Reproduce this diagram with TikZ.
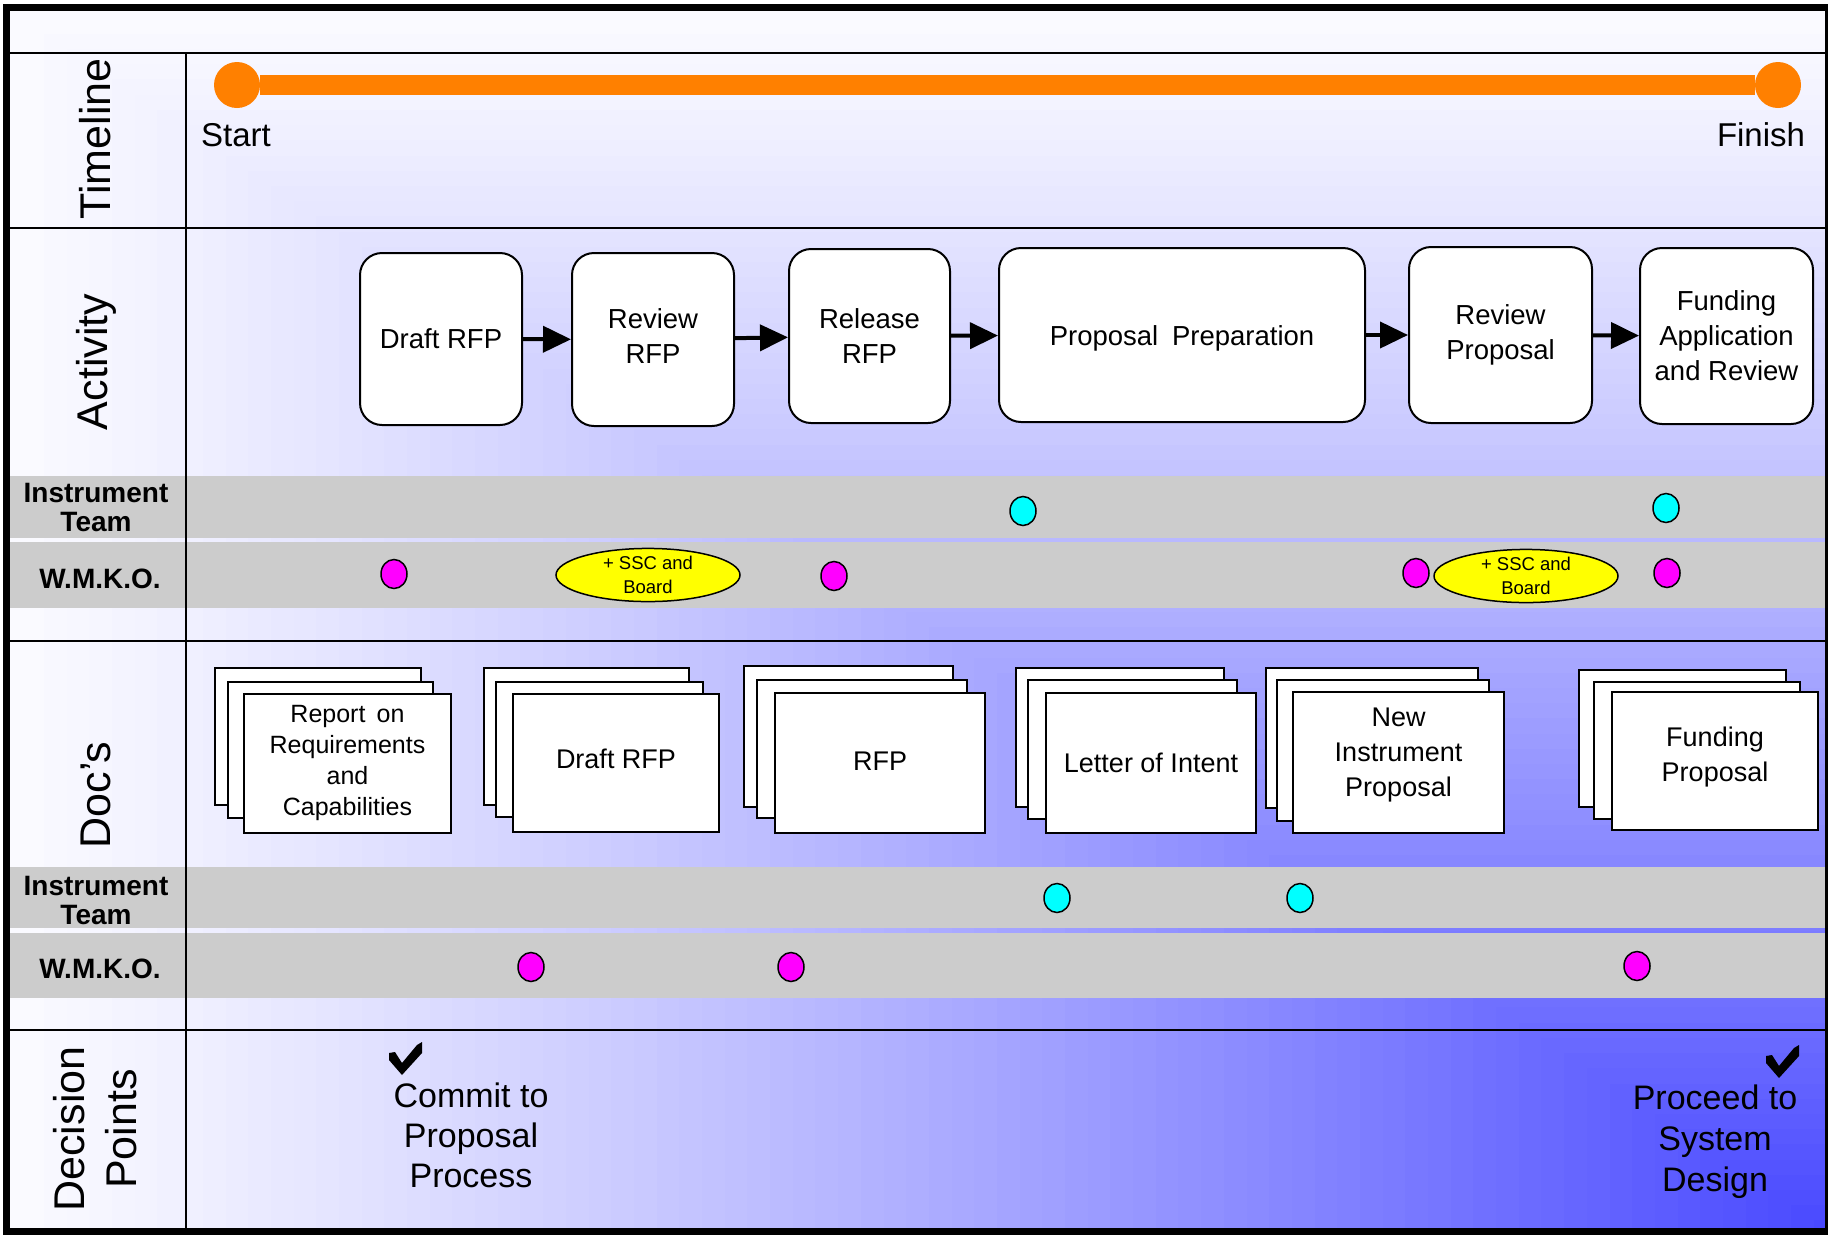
\documentclass[tikz,border=0pt]{standalone}
\usepackage{fontspec}
\setmainfont{Liberation Sans}
\usetikzlibrary{arrows.meta,shapes.geometric}
\definecolor{cornerblue}{RGB}{72,72,255}
\definecolor{paleblue}{RGB}{250,250,255}
\definecolor{bandgray}{RGB}{204,204,204}
\definecolor{tlorange}{RGB}{255,128,0}
\definecolor{dotmag}{RGB}{255,0,255}
\definecolor{dotcyan}{RGB}{0,255,255}
\definecolor{ellyellow}{RGB}{255,255,0}
\begin{document}
\begin{tikzpicture}[x=1pt,y=-1pt,
  sepline/.style={line width=2.4pt,black},
  rowlabel/.style={font={\fontsize{43}{52}\selectfont},align=center,rotate=90,inner sep=0},
  laneLabel/.style={font={\fontsize{28}{29}\selectfont\bfseries},align=center,inner sep=0},
  tltext/.style={font={\fontsize{33}{38}\selectfont},inner sep=0},
  actbox/.style={draw,fill=white,line width=2pt,rounded corners=22pt,align=center,inner sep=0,
                 font={\fontsize{27.5}{35}\selectfont}},
  acttext/.style={align=center,inner sep=0,font={\fontsize{27.5}{35}\selectfont}},
  arr/.style={line width=4pt,-{Triangle[length=28pt,width=26pt]}},
  docbox/.style={draw,fill=white,line width=2pt},
  docfront/.style={docbox,align=center,inner sep=0,minimum width=207pt,minimum height=139pt,
                 font={\fontsize{27}{35}\selectfont}},
  doctext/.style={align=center,inner sep=0,font={\fontsize{27}{35}\selectfont}},
  magdot/.style={ellipse,draw,line width=1.5pt,fill=dotmag,minimum width=26pt,minimum height=29pt,inner sep=0},
  cyandot/.style={ellipse,draw,line width=1.5pt,fill=dotcyan,minimum width=26pt,minimum height=29pt,inner sep=0},
  ssc/.style={ellipse,draw,line width=1.5pt,fill=ellyellow,minimum width=184pt,minimum height=53pt,
              inner sep=0,align=center,font={\fontsize{18.5}{24}\selectfont}},
  decision/.style={align=center,inner sep=0,font={\fontsize{34}{40}\selectfont}},
  chk/.pic={\fill[black] (0,11) -- (6,10) -- (13,21) -- (28,3) -- (33,0) -- (33,11) -- (13,33) -- (0,18) -- cycle;}
]
\useasboundingbox (0,0) rectangle (1828,1235);

% background: rectangular gradient from the bottom-right corner
\fill[paleblue] (10,11) rectangle (1825,1228);
\foreach \i in {0,...,79}{
  \pgfmathsetmacro\s{(80-\i-0.5)/80}
  \pgfmathsetmacro\p{100*(1-\s)^1.2}
  \fill[cornerblue!\p!paleblue] ({1825-\s*1815},{1228-\s*1217}) rectangle (1825,1228);
}

% grey lanes
\fill[bandgray] (10,476) rectangle (1825,538);
\fill[bandgray] (10,542) rectangle (1825,608);
\fill[bandgray] (10,867) rectangle (1825,928);
\fill[bandgray] (10,933) rectangle (1825,998);

% separators
\draw[sepline] (10,53) -- (1825,53);
\draw[sepline] (10,228) -- (1825,228);
\draw[sepline] (10,641) -- (1825,641);
\draw[sepline] (10,1030) -- (1825,1030);
\draw[sepline] (186,53) -- (186,1228);

% outer frame
\draw[line width=7pt] (6.5,7.5) rectangle (1828.5,1231.5);

% row labels
\node[rowlabel] (lbltime) at (95,139) {Timeline};
\node[rowlabel] (lblact) at (96,362) {Activity};
\node[rowlabel] (lbldoc) at (96,795) {Doc's};
\node[rowlabel] (lbldec) at (95,1129) {Decision\\Points};

\node[laneLabel] (it1) at (96,507) {Instrument\\Team};
\node[laneLabel] (wm1) at (100,579) {W.M.K.O.};
\node[laneLabel] (it2) at (96,900) {Instrument\\Team};
\node[laneLabel] (wm2) at (100,969) {W.M.K.O.};

% timeline
\node[circle,fill=tlorange,minimum size=46pt,inner sep=0] (tstart) at (237,85) {};
\node[circle,fill=tlorange,minimum size=46pt,inner sep=0] (tfinish) at (1778,85) {};
\draw[tlorange,line width=20pt] (tstart) -- (tfinish);
\node[tltext] (start) at (236,135) {Start};
\node[tltext] (finish) at (1761,135) {Finish};

% activities
\node[actbox,minimum width=162pt,minimum height=172pt] (a1) at (441,339) {Draft RFP};
\node[actbox,minimum width=162pt,minimum height=173pt] (a2) at (653,339.5) {};
\node[acttext] (a2t) at ([yshift=3.5pt]a2.center) {Review\\RFP};
\node[actbox,minimum width=161pt,minimum height=174pt] (a3) at (869.5,336) {Release\\RFP};
\node[actbox,minimum width=366pt,minimum height=174pt] (a4) at (1182,335) {};
\node[acttext] (a4t) at ([yshift=-3.5pt]a4.center) {Proposal\hspace{0.5em}Preparation};
\node[actbox,minimum width=183pt,minimum height=176pt] (a5) at (1500.5,335) {Review\\Proposal};
\node[actbox,minimum width=173pt,minimum height=176pt] (a6) at (1726.5,336) {Funding\\Application\\and Review};
\draw[arr] (a1) -- (a2);
\draw[arr] (a2) -- (a3);
\draw[arr] (a3) -- (a4);
\draw[arr] (a4) -- (a5);
\draw[arr] (a5) -- (a6);

% activity lanes
\node[cyandot] (ai1) at (1023,511) {};
\node[cyandot] (ai2) at (1666,508) {};
\node[magdot] (aw1) at (394,574) {};
\node[ssc] (ssc1) at (648,575) {+ SSC and\\Board};
\node[magdot] (aw2) at (834,576) {};
\node[magdot] (aw3) at (1416,573) {};
\node[ssc] (ssc2) at (1526,576) {+ SSC and\\Board};
\node[magdot] (aw4) at (1667,573) {};

% documents
\draw[docbox] (215,668) rectangle (421,805);
\draw[docbox] (228,682) rectangle (433,818);
\node[docfront,font={\fontsize{25}{31}\selectfont}] (d1) at (347.5,763) {Report\hspace{0.45em}on\\Requirements\\and\\Capabilities};

\draw[docbox] (484,668) rectangle (689,805);
\draw[docbox] (496,682) rectangle (703,817);
\node[docfront,minimum width=206pt,minimum height=138pt] (d2) at (616,763) {};
\node[doctext] (d2t) at ([yshift=4.5pt]d2.center) {Draft RFP};

\draw[docbox] (744,666) rectangle (953,807);
\draw[docbox] (757,680) rectangle (967,818);
\node[docfront,minimum width=210pt,minimum height=140pt] (d3) at (880,763) {};
\node[doctext] (d3t) at ([yshift=2pt]d3.center) {RFP};

\draw[docbox] (1016,668) rectangle (1224,807);
\draw[docbox] (1028,680) rectangle (1237,819);
\node[docfront,minimum width=210pt,minimum height=140pt] (d4) at (1151,763) {Letter of Intent};

\draw[docbox] (1266,668) rectangle (1478,808);
\draw[docbox] (1277,680) rectangle (1489,821);
\node[docfront,minimum width=211pt,minimum height=141pt] (d5) at (1398.5,762.5) {};
\node[doctext] (d5t) at ([yshift=8pt]d5.center) {New\\Instrument\\Proposal};

\draw[docbox] (1579,670) rectangle (1786,807);
\draw[docbox] (1594,682) rectangle (1800,819);
\node[docfront,minimum width=206pt,minimum height=138pt] (d6) at (1715,761) {};
\node[doctext] (d6t) at ([yshift=4pt]d6.center) {Funding\\Proposal};

% document lanes
\node[cyandot] (di1) at (1057,898) {};
\node[cyandot] (di2) at (1300,898) {};
\node[magdot] (dw1) at (531,967) {};
\node[magdot] (dw2) at (791,967) {};
\node[magdot] (dw3) at (1637,966) {};

% decision points
\pic at (389,1042) {chk};
\node[decision] (dp1) at (471,1135) {Commit to\\Proposal\\Process};
\pic at (1766,1045) {chk};
\node[decision,font={\fontsize{34}{41}\selectfont}] (dp2) at (1715,1142) {Proceed to\\System\\Design};
\end{tikzpicture}
\end{document}
